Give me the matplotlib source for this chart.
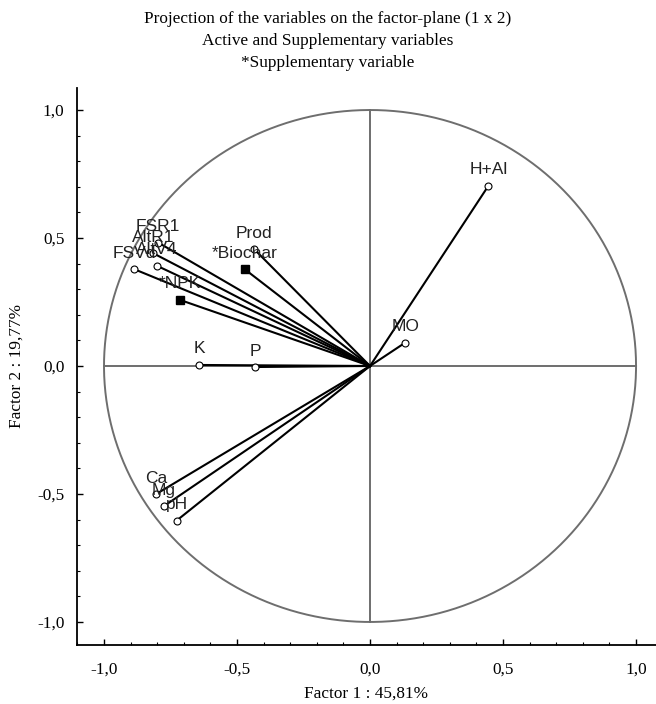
"""Projection of the variables on the factor-plane (PCA correlation circle)."""

import matplotlib

matplotlib.use("Agg")
import matplotlib.pyplot as plt
import numpy as np
from matplotlib.ticker import FuncFormatter, MultipleLocator

# active variables: (factor 1, factor 2) loadings
active_names = ["H+Al", "MO", "Prod", "FSR1", "AltR1", "AltV4", "FSVd", "K", "P", "Ca", "Mg", "pH"]
active_f1 = [0.445, 0.132, -0.436, -0.796, -0.816, -0.802, -0.886, -0.643, -0.432, -0.805, -0.774, -0.727]
active_f2 = [0.704, 0.091, 0.457, 0.482, 0.441, 0.392, 0.378, 0.004, -0.004, -0.501, -0.547, -0.604]

# supplementary variables
supp_names = ["*Biochar", "*NPK"]
supp_f1 = [-0.471, -0.714]
supp_f2 = [0.378, 0.258]

title_lines = [
    "Projection of the variables on the factor-plane (1 x 2)",
    "Active and Supplementary variables",
    "*Supplementary variable",
]
x_label = "Factor 1 : 45,81%"
y_label = "Factor 2 : 19,77%"

SERIF = "Liberation Serif"
SANS = "Liberation Sans"
GREY = "#6e6e6e"


def comma_fmt(v, _pos):
    return f"{v:.1f}".replace(".", ",")


def main():
    fig = plt.figure(figsize=(6.56, 7.04), dpi=100)
    ax = fig.add_axes([77 / 656, 59 / 704, 579 / 656, 557 / 704])

    # unit circle and zero axes
    theta = np.linspace(0, 2 * np.pi, 400)
    ax.plot(np.cos(theta), np.sin(theta), color=GREY, lw=1.4, zorder=1)
    ax.plot([-1, 1], [0, 0], color=GREY, lw=1.4, zorder=1)
    ax.plot([0, 0], [-1, 1], color=GREY, lw=1.4, zorder=1)

    for name, x, y in zip(active_names, active_f1, active_f2):
        ax.plot([0, x], [0, y], color="black", lw=1.5, zorder=2)
        ax.plot(x, y, "o", ms=5, mfc="white", mec="black", mew=0.8, zorder=3)
        ax.annotate(name, (x, y), xytext=(0, 11.5), textcoords="offset points",
                    ha="center", va="center", fontsize=12.5, family=SANS, color="#222222")

    for name, x, y in zip(supp_names, supp_f1, supp_f2):
        ax.plot([0, x], [0, y], color="black", lw=1.5, zorder=2)
        ax.plot(x, y, "s", ms=5.5, color="black", zorder=3)
        ax.annotate(name, (x, y), xytext=(0, 11.5), textcoords="offset points",
                    ha="center", va="center", fontsize=12.5, family=SANS, color="#222222")

    ax.set_xlim(-1.1015, 1.075)
    ax.set_ylim(-1.09, 1.086)

    for side in ("top", "right"):
        ax.spines[side].set_visible(False)
    for side in ("left", "bottom"):
        ax.spines[side].set_linewidth(1.3)

    ax.xaxis.set_major_locator(MultipleLocator(0.5))
    ax.yaxis.set_major_locator(MultipleLocator(0.5))
    ax.xaxis.set_minor_locator(MultipleLocator(0.1))
    ax.yaxis.set_minor_locator(MultipleLocator(0.1))
    ax.xaxis.set_major_formatter(FuncFormatter(comma_fmt))
    ax.yaxis.set_major_formatter(FuncFormatter(comma_fmt))
    ax.tick_params(which="major", direction="in", length=4, width=1)
    ax.tick_params(which="minor", direction="in", length=2.5, width=0.8)
    ax.tick_params(axis="x", which="major", pad=12)
    ax.tick_params(axis="y", which="major", pad=9)
    for lbl in ax.get_xticklabels() + ax.get_yticklabels():
        lbl.set_family(SERIF)
        lbl.set_fontsize(12.4)

    ax.set_xlabel(x_label, family=SERIF, fontsize=12.4, labelpad=6)
    ax.set_ylabel(y_label, family=SERIF, fontsize=12.4, labelpad=9)

    for i, line in enumerate(title_lines):
        fig.text(0.5, 1 - (19 + 22 * i) / 704, line, ha="center", va="center",
                 family=SERIF, fontsize=12.4)

    fig.savefig("out.png", dpi=100)


if __name__ == "__main__":
    main()
